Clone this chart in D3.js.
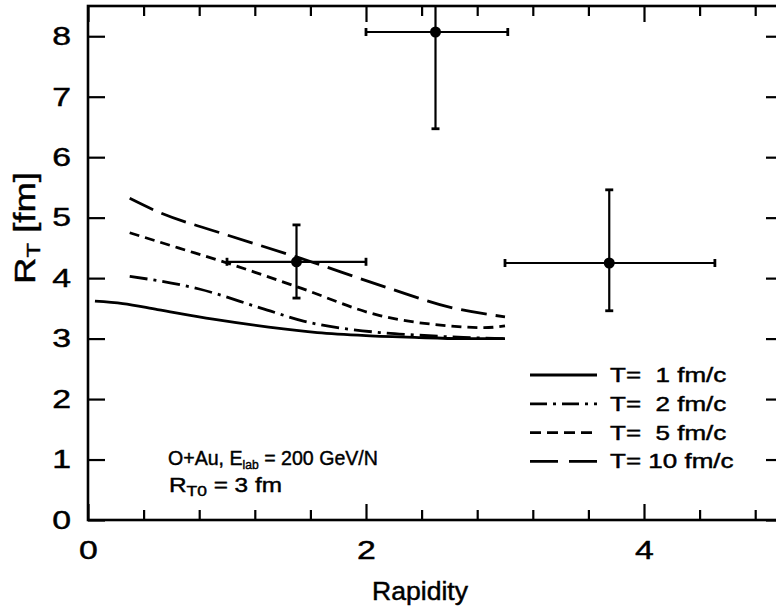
<!DOCTYPE html>
<html>
<head>
<meta charset="utf-8">
<script src="https://cdn.jsdelivr.net/npm/d3@7"></script>
<style>
  html, body { margin: 0; padding: 0; background: #fff; }
  svg { display: block; }
  text { font-family: "Liberation Sans", Arial, Helvetica, sans-serif; fill: #000; stroke: #000; stroke-width: 0.45px; }
</style>
</head>
<body>
<svg id="chart" width="776" height="609"></svg>
<script>
// ---- data ----
const xMajorTicks = [0, 2, 4];
const xMinorTicks = [0.4, 0.8, 1.2, 1.6, 2.4, 2.8, 3.2, 3.6, 4.4, 4.8];
const yTicks = [0, 1, 2, 3, 4, 5, 6, 7, 8];

const t1X = [0.05, 0.25, 0.5, 0.9, 1.3, 1.65, 2.0, 2.35, 2.7, 3.0];
const t1Y = [3.62, 3.58, 3.48, 3.32, 3.19, 3.10, 3.05, 3.02, 3.00, 3.00];
const t2X = [0.3, 0.8, 1.25, 1.55, 2.1, 2.35, 2.7, 3.0];
const t2Y = [4.03, 3.82, 3.50, 3.29, 3.10, 3.06, 3.02, 3.00];
const t5X = [0.3, 0.65, 1.0, 1.5, 2.1, 2.6, 2.85, 3.0];
const t5Y = [4.75, 4.50, 4.25, 3.86, 3.38, 3.21, 3.18, 3.21];
const t10X = [0.3, 0.5, 0.95, 1.5, 2.17, 2.6, 3.0];
const t10Y = [5.32, 5.10, 4.75, 4.35, 3.83, 3.52, 3.36];

const seriesNames = ["T=  1 fm/c", "T=  2 fm/c", "T=  5 fm/c", "T= 10 fm/c"];

const pointX = [1.5, 2.5, 3.75];
const pointY = [4.27, 8.07, 4.25];
const pointXLo = [1.0, 2.0, 3.0];
const pointXHi = [2.0, 3.02, 4.51];
const pointYLo = [3.67, 6.47, 3.46];
const pointYHi = [4.88, 9.67, 5.46];

// ---- layout ----
const svg = d3.select("#chart");
const mLeft = 88, mRight = 783, mTop = 6, mBottom = 520;
const x = d3.scaleLinear().domain([0, 5]).range([mLeft, mRight]);
const y = d3.scaleLinear().domain([0, 8.5]).range([mBottom, mTop]);

svg.append("defs").append("clipPath").attr("id", "clip")
  .append("rect").attr("x", mLeft).attr("y", mTop).attr("width", mRight - mLeft).attr("height", mBottom - mTop);

function styleAxis(g, labels) {
  g.select(".domain").remove();
  g.selectAll(".tick line").attr("stroke", "#000").attr("stroke-width", 2.2);
  if (!labels) g.selectAll(".tick text").remove();
  else g.selectAll(".tick text").style("font-size", "26px").attr("fill", "#000")
    .style("font-family", "'Liberation Sans', Arial, sans-serif")
    .attr("transform", "scale(1.3,1)");
}

// stretch a text element horizontally (in its own frame) to a given width
function fit(sel, tx, ty, targetW, rot) {
  const w = sel.node().getComputedTextLength();
  const s = targetW / w;
  sel.attr("transform", `translate(${tx},${ty})${rot ? ` rotate(${rot})` : ""} scale(${s},1)`);
}

// bottom
svg.append("g").attr("transform", `translate(0,${mBottom})`)
  .call(d3.axisBottom(x).tickValues(xMajorTicks).tickSize(-16).tickPadding(21).tickFormat(d3.format("d")))
  .call(g => styleAxis(g, true));
svg.append("g").attr("transform", `translate(0,${mBottom})`)
  .call(d3.axisBottom(x).tickValues(xMinorTicks).tickSize(-10).tickFormat(""))
  .call(g => styleAxis(g, false));
// top
svg.append("g").attr("transform", `translate(0,${mTop})`)
  .call(d3.axisTop(x).tickValues(xMajorTicks).tickSize(-16).tickFormat(""))
  .call(g => styleAxis(g, false));
svg.append("g").attr("transform", `translate(0,${mTop})`)
  .call(d3.axisTop(x).tickValues(xMinorTicks).tickSize(-10).tickFormat(""))
  .call(g => styleAxis(g, false));
// left
svg.append("g").attr("transform", `translate(${mLeft},0)`)
  .call(d3.axisLeft(y).tickValues(yTicks).tickSize(-17).tickPadding(13).tickFormat(d3.format("d")))
  .call(g => styleAxis(g, true));
// right
svg.append("g").attr("transform", `translate(${mRight},0)`)
  .call(d3.axisRight(y).tickValues(yTicks).tickSize(-17).tickFormat(""))
  .call(g => styleAxis(g, false));

// frame
svg.append("rect").attr("x", mLeft).attr("y", mTop).attr("width", mRight - mLeft).attr("height", mBottom - mTop)
  .attr("fill", "none").attr("stroke", "#000").attr("stroke-width", 2.6);

// curves
const dashes = [null, "18,6,3,6", "10,6", "26,9"];
const curves = [[t1X, t1Y], [t2X, t2Y], [t5X, t5Y], [t10X, t10Y]];
const line = d3.line().x(d => x(d[0])).y(d => y(d[1])).curve(d3.curveMonotoneX);
const plot = svg.append("g").attr("clip-path", "url(#clip)");
curves.forEach((c, i) => {
  const pts = c[0].map((v, j) => [v, c[1][j]]);
  plot.append("path").datum(pts).attr("d", line)
    .attr("fill", "none").attr("stroke", "#000").attr("stroke-width", 2.8)
    .attr("stroke-dasharray", dashes[i]);
});

// data points with error bars
const cap = 4;
pointX.forEach((px, i) => {
  const g = plot.append("g").attr("stroke", "#000").attr("stroke-width", 2.2);
  g.append("line").attr("x1", x(pointXLo[i])).attr("x2", x(pointXHi[i])).attr("y1", y(pointY[i])).attr("y2", y(pointY[i]));
  g.append("line").attr("x1", x(px)).attr("x2", x(px)).attr("y1", y(pointYLo[i])).attr("y2", y(pointYHi[i]));
  [pointXLo[i], pointXHi[i]].forEach(v => g.append("line").attr("x1", x(v)).attr("x2", x(v))
    .attr("y1", y(pointY[i]) - cap).attr("y2", y(pointY[i]) + cap).attr("stroke-width", 2.8));
  [pointYLo[i], pointYHi[i]].forEach(v => g.append("line").attr("y1", y(v)).attr("y2", y(v))
    .attr("x1", x(px) - cap).attr("x2", x(px) + cap).attr("stroke-width", 2.8));
  plot.append("circle").attr("cx", x(px)).attr("cy", y(pointY[i])).attr("r", 5.5).attr("fill", "#000");
});

// legend
const legX1 = 530, legX2 = 597, legY0 = 375, legDy = 28.8;
const legDash = [null, "17,6,3,6", "11,6", "28,11"];
seriesNames.forEach((name, i) => {
  const yy = legY0 + i * legDy;
  svg.append("line").attr("x1", legX1).attr("x2", legX2).attr("y1", yy).attr("y2", yy)
    .attr("stroke", "#000").attr("stroke-width", 2.8).attr("stroke-dasharray", legDash[i]);
  svg.append("text").attr("transform", `translate(610,${yy + 7}) scale(1.3,1)`).style("font-size", "20px")
    .style("white-space", "pre").text(name);
});

// annotation
const ann1 = svg.append("text").style("font-size", "21px");
ann1.append("tspan").text("O+Au, E");
ann1.append("tspan").attr("dy", 4).style("font-size", "13px").text("lab");
ann1.append("tspan").attr("dy", -4).text(" = 200 GeV/N");
fit(ann1, 168, 465, 210);
const ann2 = svg.append("text").style("font-size", "21px");
ann2.append("tspan").text("R");
ann2.append("tspan").attr("dy", 4).style("font-size", "15px").text("T0");
ann2.append("tspan").attr("dy", -4).text(" = 3 fm");
fit(ann2, 169, 492, 113);

// axis titles
const xt = svg.append("text").attr("text-anchor", "middle").style("font-size", "25px").text("Rapidity");
fit(xt, 420, 600, 96);
const yl = svg.append("text").attr("text-anchor", "middle").style("font-size", "29px");
yl.append("tspan").text("R");
yl.append("tspan").attr("dy", 5).style("font-size", "19px").text("T");
yl.append("tspan").attr("dy", -5).text(" [fm]");
fit(yl, 35, 228, 112, -90);
</script>
</body>
</html>
